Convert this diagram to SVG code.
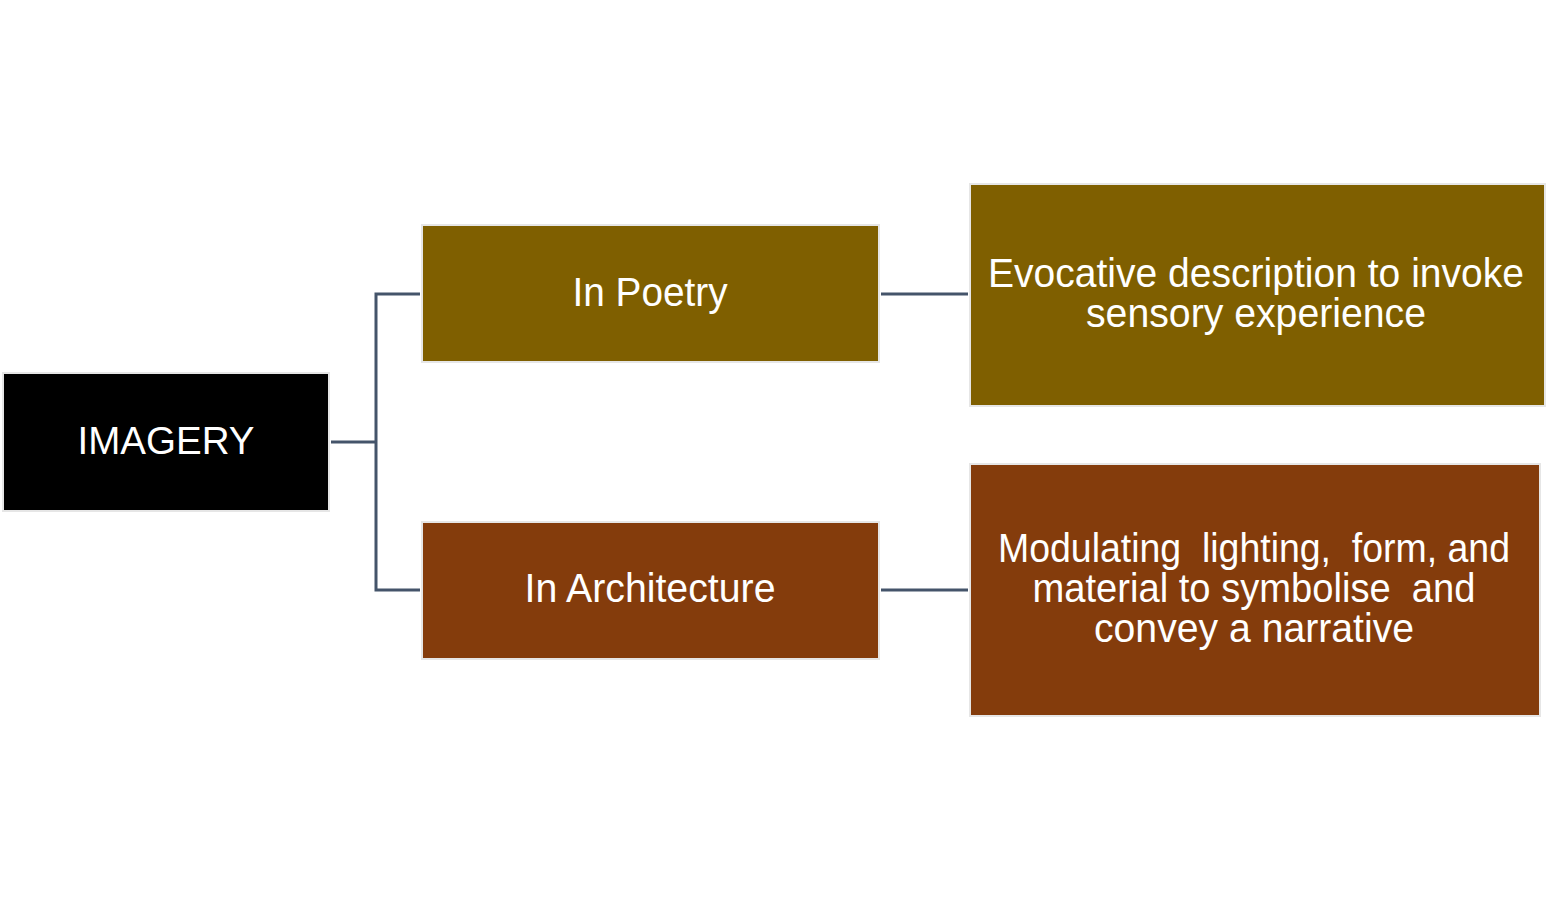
<svg xmlns="http://www.w3.org/2000/svg" width="1562" height="900" viewBox="0 0 1562 900">
<style>
.box{stroke:#e6e6e6;stroke-width:2}
.t{font-family:"Liberation Sans",Arial,sans-serif;fill:#ffffff;text-anchor:middle;white-space:pre}
.c{fill:none;stroke:#44546a;stroke-width:3}
</style>
<rect width="1562" height="900" fill="#ffffff"/>
<g id="connectors">
<polyline class="c" points="331,442 376,442"/>
<polyline class="c" points="420,294 376,294 376,590 420,590"/>
<line class="c" x1="881" y1="294" x2="968" y2="294"/>
<line class="c" x1="881" y1="590" x2="968" y2="590"/>
</g>
<g id="imagery">
<rect class="box" x="3" y="373" width="326" height="138" fill="#000000"/>
<text class="t" x="166" y="454" font-size="38" textLength="177" lengthAdjust="spacingAndGlyphs">IMAGERY</text>
</g>
<g id="poetry">
<rect class="box" x="422" y="225" width="457" height="137" fill="#7f5f00"/>
<text class="t" x="650" y="306" font-size="40" textLength="155" lengthAdjust="spacingAndGlyphs">In Poetry</text>
</g>
<g id="architecture">
<rect class="box" x="422" y="522" width="457" height="137" fill="#843c0c"/>
<text class="t" x="650" y="602" font-size="40" textLength="251" lengthAdjust="spacingAndGlyphs">In Architecture</text>
</g>
<g id="poetry-desc">
<rect class="box" x="970" y="184" width="575" height="222" fill="#7f5f00"/>
<text class="t" x="1256" y="287" font-size="40" textLength="536" lengthAdjust="spacingAndGlyphs">Evocative description to invoke</text>
<text class="t" x="1256" y="327" font-size="40" textLength="340" lengthAdjust="spacingAndGlyphs">sensory experience</text>
</g>
<g id="architecture-desc">
<rect class="box" x="970" y="464" width="570" height="252" fill="#843c0c"/>
<text class="t" x="1254" y="562" font-size="40" textLength="512" lengthAdjust="spacingAndGlyphs" xml:space="preserve">Modulating  lighting,  form, and</text>
<text class="t" x="1254" y="602" font-size="40" textLength="443" lengthAdjust="spacingAndGlyphs" xml:space="preserve">material to symbolise  and</text>
<text class="t" x="1254" y="642" font-size="40" textLength="320" lengthAdjust="spacingAndGlyphs">convey a narrative</text>
</g>
</svg>
